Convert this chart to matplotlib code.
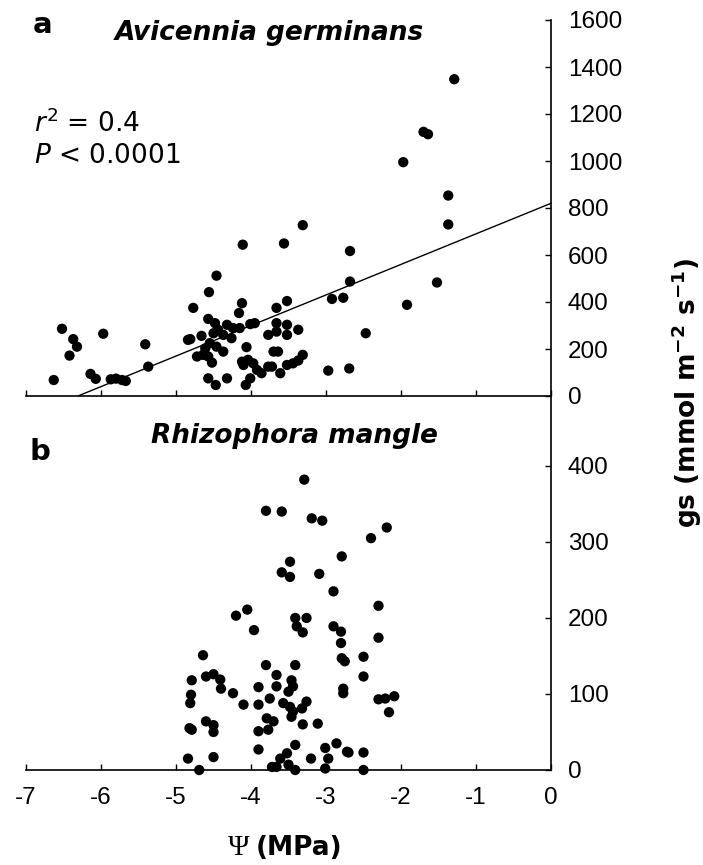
import numpy as np
import matplotlib
matplotlib.use("Agg")
import matplotlib.pyplot as plt

plt.rcParams['font.family'] = ['Liberation Sans', 'DejaVu Sans']
plt.rcParams['mathtext.fontset'] = 'dejavusans'

# --- DATA ---
# a: Avicennia germinans, water potential (MPa) vs stomatal conductance
avi_psi = [-6.52, -6.37, -6.32, -6.42, -5.97, -6.63, -6.14, -6.07, -5.87, -5.80,
           -5.72, -5.67, -5.41, -5.37, -4.84, -3.31, -4.11, -3.56, -4.46, -4.56,
           -4.12, -4.16, -4.77, -3.52, -3.66, -2.92, -2.77, -2.68, -2.68, -4.57,
           -4.48, -4.44, -4.32, -4.24, -4.15, -4.01, -3.95, -4.37, -4.26, -4.50,
           -4.66, -4.81, -4.55, -4.46, -4.61, -4.37, -4.72, -4.64, -4.57, -4.52,
           -4.06, -3.66, -3.77, -3.66, -3.52, -3.52, -3.37, -3.70, -3.64, -4.12,
           -4.04, -3.97, -3.92, -3.86, -4.10, -3.72, -3.61, -3.52, -3.37, -3.31,
           -4.57, -4.47, -4.32, -4.07, -4.01, -2.97, -2.69, -1.37, -1.37, -1.52,
           -1.92, -2.47, -1.29, -1.70, -1.64, -1.97, -3.44, -3.77]
avi_gs = [286, 242, 210, 172, 265, 68, 94, 73, 71, 74,
          68, 64, 220, 125, 239, 727, 644, 649, 512, 442,
          395, 353, 375, 404, 375, 413, 418, 617, 487, 328,
          310, 282, 303, 289, 289, 306, 310, 260, 246, 267,
          256, 242, 225, 210, 203, 189, 168, 175, 168, 142,
          208, 310, 260, 274, 303, 260, 282, 189, 189, 146,
          154, 139, 111, 97, 132, 125, 97, 132, 151, 175,
          75, 47, 75, 47, 75, 108, 117, 853, 730, 483,
          388, 267, 1348, 1124, 1114, 995, 139, 125]

# regression line in panel a
fit_intercept = 820
fit_slope = 130
fit_x = [-6.3, 0]

# b: Rhizophora mangle
rhi_psi = [-3.29, -3.80, -3.59, -3.19, -3.05, -2.79, -3.48, -3.59, -3.48, -3.09,
           -2.90, -4.20, -4.05, -3.96, -3.41, -3.26, -3.39, -3.31, -2.90, -2.80,
           -2.80, -2.79, -2.75, -2.77, -2.77, -4.64, -4.79, -4.60, -4.50, -4.41,
           -4.40, -4.80, -4.81, -4.24, -4.10, -3.90, -3.80, -3.66, -3.66, -3.41,
           -3.46, -3.44, -3.50, -3.75, -3.90, -3.57, -3.48, -3.44, -3.32, -3.26,
           -3.46, -3.31, -3.11, -4.82, -4.79, -4.60, -4.50, -4.50, -3.79, -3.70,
           -3.77, -3.90, -3.90, -4.84, -4.50, -4.69, -3.41, -3.52, -3.61, -3.66,
           -3.72, -3.50, -3.41, -3.20, -3.01, -2.97, -3.01, -2.86, -2.72, -2.19,
           -2.40, -2.30, -2.30, -2.50, -2.50, -2.30, -2.21, -2.09, -2.16, -2.70,
           -2.50, -2.50]
rhi_gs = [382, 341, 340, 331, 328, 281, 274, 260, 254, 258,
          235, 203, 211, 184, 200, 200, 189, 181, 189, 182,
          167, 147, 143, 107, 101, 151, 118, 123, 126, 119,
          107, 99, 88, 101, 86, 109, 138, 125, 110, 138,
          118, 110, 103, 94, 86, 88, 83, 77, 81, 90,
          70, 60, 61, 55, 53, 64, 59, 50, 68, 64,
          53, 51, 27, 15, 17, 0, 33, 22, 15, 4,
          4, 7, 0, 15, 29, 15, 2, 35, 24, 319,
          305, 216, 174, 149, 123, 93, 94, 97, 76, 23,
          23, 0]

x_ticks = [-7, -6, -5, -4, -3, -2, -1, 0]
avi_ticks = list(range(0, 1601, 200))
rhi_ticks = list(range(0, 401, 100))

WIDE = ['DejaVu Sans']  # the labels in the original are set wider than the ticks

W, H = 703, 865
fig = plt.figure(figsize=(W / 100, H / 100), dpi=100)

left = 26 / W
width = 525 / W
ax1 = fig.add_axes([left, 1 - 396 / H, width, 376 / H])
ax2 = fig.add_axes([left, 1 - 770 / H, width, 374 / H])

for ax in (ax1, ax2):
    ax.spines['top'].set_visible(False)
    ax.spines['left'].set_visible(False)
    for s in ('bottom', 'right'):
        ax.spines[s].set_linewidth(1.2)
    ax.yaxis.tick_right()
    ax.set_xlim(-7, 0)
    ax.set_xticks(x_ticks)
    ax.tick_params(axis='both', direction='in', length=4, width=1,
                   labelsize=17.5, pad=12)
    ax.tick_params(axis='y', left=False, right=True)
    ax.set_facecolor('none')

# panel a
ax1.scatter(avi_psi, avi_gs, s=55, color='black', edgecolors='none',
            zorder=3, clip_on=False)
fx = np.array(fit_x)
ax1.plot(fx, fit_intercept + fit_slope * fx, color='black', lw=1.0,
         clip_on=False)
ax1.set_ylim(0, 1600)
ax1.set_yticks(avi_ticks)
ax1.set_xticklabels([])
fig.text(269 / W, 1 - 40 / H, 'Avicennia germinans', family=WIDE,
         ha='center', va='baseline', fontsize=19, fontweight='bold',
         fontstyle='italic')
fig.text(33 / W, 1 - 33 / H, 'a', family=WIDE, fontsize=21, fontweight='bold',
         va='baseline', ha='left')
fig.text(34 / W, 1 - 132 / H, '$r^2$ = 0.4', family=WIDE, fontsize=19,
         va='baseline', ha='left')
fig.text(34 / W, 1 - 163 / H, '$P$ < 0.0001', family=WIDE, fontsize=19,
         va='baseline', ha='left')

# panel b
ax2.scatter(rhi_psi, rhi_gs, s=55, color='black', edgecolors='none',
            zorder=3, clip_on=False)
ax2.set_ylim(0, 492)
ax2.set_yticks(rhi_ticks)
ax2.set_xticklabels([str(t) for t in x_ticks])
fig.text(294 / W, 1 - 443 / H, 'Rhizophora mangle', family=WIDE, ha='center',
         va='baseline', fontsize=19, fontweight='bold', fontstyle='italic')
fig.text(30 / W, 1 - 460 / H, 'b', family=WIDE, fontsize=21, fontweight='bold',
         va='baseline', ha='left')

# axis labels
fig.text(249 / W, 1 - 855 / H, '\u03a8', family=['Liberation Serif', 'DejaVu Serif'],
         fontsize=21, ha='right', va='baseline')
fig.text(256 / W, 1 - 855 / H, '(MPa)', family=WIDE, fontsize=19,
         fontweight='bold', ha='left', va='baseline')
fig.text(687 / W, 1 - 393 / H,
         'gs (mmol m$\\mathbf{^{-2}}$ s$\\mathbf{^{-1}}$)', family=WIDE,
         rotation=90, ha='center', va='center', fontsize=19, fontweight='bold')

fig.savefig('out.png', dpi=100)
